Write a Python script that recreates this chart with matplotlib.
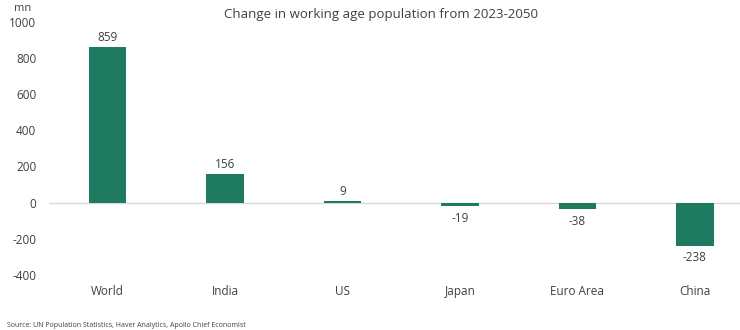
import matplotlib
matplotlib.use("Agg")
import matplotlib.pyplot as plt

regions = ["World", "India", "US", "Japan", "Euro Area", "China"]
change = [859, 156, 9, -19, -38, -238]
yticks = [-400, -200, 0, 200, 400, 600, 800, 1000]

plt.rcParams['font.family'] = ['Open Sans', 'DejaVu Sans']
green = '#1f7a62'
grey = '#404040'

fig = plt.figure(figsize=(7.4, 3.3), dpi=100)
ax = fig.add_axes([0.066, 0.167, 0.934, 0.767])

x = list(range(len(regions)))
ax.bar(x, change, width=0.32, color=green, zorder=3)
for xi, v in zip(x, change):
    if v >= 0:
        ax.text(xi, v + 18, str(v), ha='center', va='bottom', fontsize=8.5, color=grey)
    else:
        ax.text(xi, v - 32, str(v), ha='center', va='top', fontsize=8.5, color=grey)

ax.axhline(0, color='#d9d9d9', lw=1, zorder=2)
ax.set_xlim(-0.5, 5.385)
ax.set_ylim(-400, 1000)
ax.set_yticks(yticks)
ax.set_yticklabels([str(t) for t in yticks], fontsize=8.5, color=grey)
ax.set_xticks(x)
ax.set_xticklabels(regions, fontsize=8.5, color=grey)
ax.tick_params(length=0, axis='y', pad=9)
ax.tick_params(length=0, axis='x', pad=7)
for s in ax.spines.values():
    s.set_visible(False)

fig.text(0.515, 0.957, 'Change in working age population from 2023-2050', ha='center',
         va='center', fontsize=9.5, color=grey)
fig.text(0.03, 0.975, 'mn', ha='center', va='center', fontsize=8, color=grey)
fig.text(0.01, 0.015, 'Source: UN Population Statistics, Haver Analytics, Apollo Chief Economist',
         ha='left', va='center', fontsize=5, color=grey)

fig.savefig('out.png', dpi=100)
